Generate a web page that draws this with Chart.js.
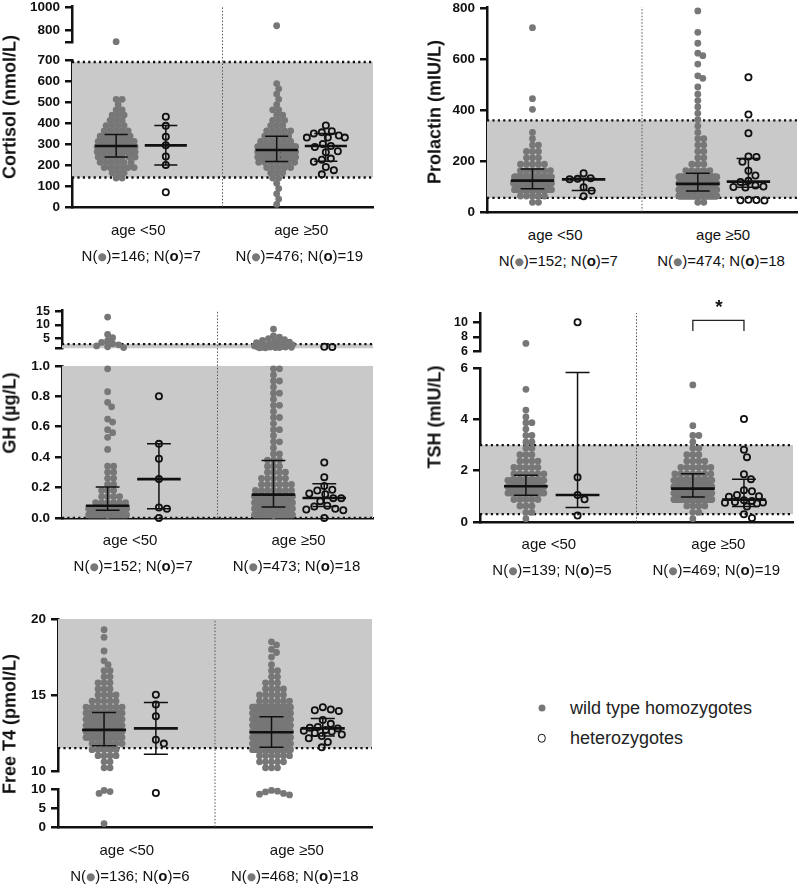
<!DOCTYPE html>
<html>
<head>
<meta charset="utf-8">
<title>Hormone levels by genotype and age</title>
<script src="https://cdn.jsdelivr.net/npm/chart.js@4.4.1/dist/chart.umd.min.js"></script>
<style>
  body { margin: 0; width: 798px; height: 886px; position: relative; overflow: hidden; background: #fff;
         font-family: "Liberation Sans", Arial, Helvetica, sans-serif; color: #111; }
  canvas { position: absolute; }
  .ytitle { position: absolute; font-weight: bold; font-size: 18px; white-space: nowrap;
            transform: translate(-50%, -50%) rotate(-90deg); }
  .lbl { position: absolute; font-size: 15px; white-space: nowrap; transform: translate(-50%, -50%); }
  .dot { color: #777; font-size: 10.5px; position: relative; top: -1px; font-family: "DejaVu Sans", sans-serif; }
  .legend { position: absolute; font-size: 18px; color: #222; white-space: nowrap; transform: translateY(-50%); }
  .mk { position: absolute; border-radius: 50%; transform: translate(-50%, -50%); box-sizing: border-box; }
  .star { position: absolute; font-weight: bold; font-size: 19px; transform: translate(-50%, -50%); }
</style>
</head>
<body>
<script>
// columns inside each panel: wt <50, het <50, wt >=50, het >=50 (x axis runs 0..6)
const groupX = [0.88, 1.87, 4.08, 5.06];
const groupLabels = ['age <50', 'age ≥50'];
const ageLabelX = [1.32, 4.57];
const nLabelX = [1.38, 4.53];
const dividerX = 3;

// ---------- Cortisol (nmol/L) ----------
// wild type values are given as counts per bin (bin width below, starting at 0)
const cortisolBin = 25;
const cortisolWtYoungBins = [0,0,0,0,0,2,3,6,6,7,30,35,30,6,5,4,3,3,2,1,2];
const cortisolWtYoungOther = [702];
const cortisolHetYoung = [429,386,334,293,240,200,70];
const cortisolWtOldBins = [1,1,1,1,1,2,3,5,7,135,150,137,6,5,5,3,3,2,2,1,1,1,1,1];
const cortisolWtOldOther = [840];
const cortisolHetOld = [388,360,355,350,340,330,330,330,300,290,285,265,260,230,225,215,190,175,155];
const cortisolMid = [290, 293, 271, 290];
const cortisolLow = [238, 200, 216, 217];
const cortisolHigh = [345, 388, 337, 350];
const cortisolRef = [140, 690];
const cortisolN = [146, 7, 476, 19];
const cortisolTicksUpper = [700, 800, 1000];
const cortisolLabelsUpper = ['', '800', '1000'];
const cortisolTicksLower = [0, 100, 200, 300, 400, 500, 600, 700];
const cortisolLabelsLower = ['0', '100', '200', '300', '400', '500', '600', '700'];

// ---------- Prolactin (mIU/L) ----------
const prolactinBin = 25;
const prolactinWtYoungBins = [0,2,5,38,45,38,6,5,3,3,2,1,1];
const prolactinWtYoungOther = [724, 445, 403];
const prolactinHetYoung = [152,132,130,128,97,83,62];
const prolactinWtOldBins = [0,2,102,120,118,100,5,3,2,2,2,2,1,1,1,1,1,1,1];
const prolactinWtOldOther = [790,706,663,624,614,581,535,525,491];
const prolactinHetOld = [529,383,309,218,216,197,162,143,122,118,104,100,98,96,48,47,46,45];
const prolactinMid = [123, 128, 110, 119];
const prolactinLow = [91, 84, 82, 97];
const prolactinHigh = [169, 132, 152, 210];
const prolactinRef = [55, 360];
const prolactinN = [152, 7, 474, 18];
const prolactinTicks = [0, 200, 400, 600, 800];
const prolactinLabels = ['0', '200', '400', '600', '800'];

// ---------- GH (µg/L) ----------
const ghBin = 0.04;
const ghWtYoungBins = [60,51,6,4,3,2,2,2,2];
const ghWtYoungOther = [0.98,0.83,0.76,0.73,0.65,0.63,0.58,0.56,0.53,0.45,12.9,6.5,5.3,4.2,3.6,3.1,2.7,2.3,2.0,1.7];
const ghHetYoung = [0.80,0.487,0.389,0.255,0.068,0.06,0];
const ghWtOldBins = [113,102,97,80,7,6,5,4,3,3,2,1,2,1,2,1,2,1,2,1,2,1,2,1,2];
const ghWtOldOther = [8.5,6.0,5.5,5.0,4.6,4.3,4.0,3.7,3.5,3.3,3.1,2.9,2.8,2.7,2.6,2.5,2.4,2.3,2.2,2.1,2.0,2.0,1.9,1.9,1.8,1.8,1.7,1.7,1.6,1.6];
const ghHetOld = [2.0,1.95,0.364,0.268,0.21,0.185,0.18,0.16,0.155,0.13,0.13,0.11,0.08,0.075,0.06,0.055,0.05,0];
const ghMid = [0.08, 0.255, 0.153, 0.131];
const ghLow = [0.05, 0.06, 0.072, 0.075];
const ghHigh = [0.203, 0.487, 0.377, 0.225];
const ghRef = [0, 3];
const ghN = [152, 7, 473, 18];
const ghTicksUpper = [1.4, 5, 10, 15];
const ghLabelsUpper = ['', '5', '10', '15'];
const ghTicksLower = [0, 0.2, 0.4, 0.6, 0.8, 1.0];
const ghLabelsLower = ['0.0', '0.2', '0.4', '0.6', '0.8', '1.0'];

// ---------- TSH (mIU/L) ----------
const tshBin = 0.25;
const tshWtYoungBins = [1,2,3,5,30,35,32,6,5,4,3,2,2,2,1,2];
const tshWtYoungOther = [7.1, 5.18, 4.37, 4.1];
const tshHetYoung = [10.0, 1.74, 1.05, 0.88, 0.25];
const tshWtOldBins = [1,2,4,95,120,120,100,7,6,4,3,2,1,2];
const tshWtOldOther = [5.35, 3.76];
const tshHetOld = [4.02,2.82,2.53,1.86,1.67,1.24,1.2,1.05,1.0,0.98,0.85,0.82,0.78,0.76,0.75,0.72,0.6,0.3,0.15];
const tshMid = [1.39, 1.05, 1.30, 0.87];
const tshLow = [1.04, 0.56, 0.97, 0.6];
const tshHigh = [1.82, 5.84, 1.88, 1.67];
const tshRef = [0.3, 3.0];
const tshN = [139, 5, 469, 19];
const tshBracket = [8.8, 10.25];   // wt >=50 vs het >=50, p < 0.05
const tshTicksUpper = [6, 8, 10];
const tshLabelsUpper = ['6', '8', '10'];
const tshTicksLower = [0, 2, 4, 6];
const tshLabelsLower = ['0', '2', '4', '6'];

// ---------- Free T4 (pmol/L) ----------
const ft4Bin = 0.4;
const ft4BinStart = 10;
const ft4WtYoungBins = [2,2,4,5,6,16,18,19,16,13,7,5,4,3,3,2,2,1];
const ft4WtYoungOther = [19.3, 18.8, 17.9, 17.25, 9.8, 9.5, 9.0, 0.9];
const ft4HetYoung = [15.02, 14.37, 13.6, 12.05, 11.8, 9.1];
const ft4WtOldBins = [3,5,6,40,50,58,62,60,56,50,44,6,5,4,3,2,2,1];
const ft4WtOldOther = [18.5, 18.3, 18.0, 17.8, 17.5, 9.8, 9.6, 9.4, 9.0, 8.8, 8.6];
const ft4HetOld = [14.2,14.05,14.0,13.95,13.35,13.1,12.9,12.85,12.8,12.7,12.65,12.6,12.5,12.4,12.3,12.15,11.9,11.55];
const ft4Mid = [12.7, 12.8, 12.55, 12.8];
const ft4Low = [11.66, 11.1, 11.56, 12.3];
const ft4High = [13.85, 14.5, 13.57, 13.46];
const ft4Ref = [11.5, 22.7];
const ft4N = [136, 6, 468, 18];
const ft4TicksUpper = [10, 15, 20];
const ft4LabelsUpper = ['10', '15', '20'];
const ft4TicksLower = [0, 5, 10];
const ft4LabelsLower = ['0', '5', '10'];

function expandBins(counts, start, width) {
  const out = [];
  counts.forEach((n, i) => { for (let k = 0; k < n; k++) out.push(start + (i + 0.5) * width); });
  return out;
}

// panel geometry (page pixels of the plot areas), segments listed top to bottom
const panels = [
  { title: 'Cortisol (nmol/L)', titleX: 10, titleY: 107, left: 72, right: 373,
    segs: [
      { min: 700, max: 1010, top: 6.1, bottom: 43.7, ticks: cortisolTicksUpper, labels: cortisolLabelsUpper, font: 13.5 },
      { min: 0, max: 700, top: 60, bottom: 208, ticks: cortisolTicksLower, labels: cortisolLabelsLower, font: 13.5 }],
    groups: [expandBins(cortisolWtYoungBins, 0, cortisolBin).concat(cortisolWtYoungOther), cortisolHetYoung,
             expandBins(cortisolWtOldBins, 0, cortisolBin).concat(cortisolWtOldOther), cortisolHetOld],
    mid: cortisolMid, low: cortisolLow, high: cortisolHigh, ref: cortisolRef, n: cortisolN },
  { title: 'Prolactin (mIU/L)', titleX: 435, titleY: 112, left: 487, right: 797,
    segs: [
      { min: 0, max: 805, top: 7, bottom: 213.3, ticks: prolactinTicks, labels: prolactinLabels, font: 13.5 }],
    groups: [expandBins(prolactinWtYoungBins, 0, prolactinBin).concat(prolactinWtYoungOther), prolactinHetYoung,
             expandBins(prolactinWtOldBins, 0, prolactinBin).concat(prolactinWtOldOther), prolactinHetOld],
    mid: prolactinMid, low: prolactinLow, high: prolactinHigh, ref: prolactinRef, n: prolactinN },
  { title: 'GH (µg/L)', titleX: 10, titleY: 413, left: 61.7, right: 372.7,
    segs: [
      { min: 1.4, max: 15.3, top: 310.9, bottom: 349.3, ticks: ghTicksUpper, labels: ghLabelsUpper, font: 12.5 },
      { min: 0, max: 1, top: 365.7, bottom: 518.3, ticks: ghTicksLower, labels: ghLabelsLower, font: 13.5 }],
    groups: [expandBins(ghWtYoungBins, 0, ghBin).concat(ghWtYoungOther), ghHetYoung,
             expandBins(ghWtOldBins, 0, ghBin).concat(ghWtOldOther), ghHetOld],
    mid: ghMid, low: ghLow, high: ghHigh, ref: ghRef, n: ghN },
  { title: 'TSH (mIU/L)', titleX: 435, titleY: 417, left: 480, right: 793,
    segs: [
      { min: 6, max: 11.2, top: 313, bottom: 351.7, ticks: tshTicksUpper, labels: tshLabelsUpper, font: 12.5 },
      { min: 0, max: 6, top: 368.3, bottom: 522.3, ticks: tshTicksLower, labels: tshLabelsLower, font: 13.5 }],
    groups: [expandBins(tshWtYoungBins, 0, tshBin).concat(tshWtYoungOther), tshHetYoung,
             expandBins(tshWtOldBins, 0, tshBin).concat(tshWtOldOther), tshHetOld],
    mid: tshMid, low: tshLow, high: tshHigh, ref: tshRef, n: tshN, bracket: tshBracket, starXY: [719, 307] },
  { title: 'Free T4 (pmol/L)', titleX: 10, titleY: 724, left: 57.7, right: 371.7,
    segs: [
      { min: 10, max: 20, top: 619.3, bottom: 773.3, ticks: ft4TicksUpper, labels: ft4LabelsUpper, font: 13.5 },
      { min: 0, max: 10, top: 790, bottom: 828.3, ticks: ft4TicksLower, labels: ft4LabelsLower, font: 13.5 }],
    groups: [expandBins(ft4WtYoungBins, ft4BinStart, ft4Bin).concat(ft4WtYoungOther), ft4HetYoung,
             expandBins(ft4WtOldBins, ft4BinStart, ft4Bin).concat(ft4WtOldOther), ft4HetOld],
    mid: ft4Mid, low: ft4Low, high: ft4High, ref: ft4Ref, n: ft4N }
];

Chart.defaults.font.family = '"Liberation Sans", Arial, Helvetica, sans-serif';
Chart.defaults.color = '#111';

const body = document.body;
function addDiv(cls, html, x, y) {
  const d = document.createElement('div');
  d.className = cls;
  d.innerHTML = html;
  d.style.left = x + 'px';
  d.style.top = y + 'px';
  body.appendChild(d);
  return d;
}

// greedy beeswarm in pixel space: returns x offsets (px)
function swarmOffsets(ys, diam, maxHalf) {
  const order = ys.map((y, i) => i).sort((a, b) => ys[a] - ys[b]);
  const placed = [];
  const out = new Array(ys.length).fill(0);
  const cands = [0];
  for (let k = 1; k <= maxHalf; k++) cands.push(k, -k);
  const d2 = diam * diam;
  for (const i of order) {
    const y = ys[i];
    let lo = placed.length - 1;
    while (lo >= 0 && y - placed[lo].y < diam) lo--;
    let best = 0, bestD = -1;
    for (const c of cands) {
      let m = Infinity;
      for (let j = lo + 1; j < placed.length; j++) {
        const dx = placed[j].x - c, dy = placed[j].y - y;
        const dd = dx * dx + dy * dy;
        if (dd < m) m = dd;
      }
      if (m >= d2) { best = c; break; }
      if (m > bestD) { bestD = m; best = c; }
    }
    placed.push({ x: best, y });
    out[i] = best;
  }
  return out;
}

function barData(mid, low, high) {
  const means = [], whiskers = [];
  groupX.forEach((x, g) => {
    means.push({ x: x - 0.42, y: mid[g] }, { x: x + 0.42, y: mid[g] }, { x, y: null });
    whiskers.push({ x, y: low[g] }, { x, y: high[g] }, { x, y: null });
    whiskers.push({ x: x - 0.23, y: high[g] }, { x: x + 0.23, y: high[g] }, { x, y: null });
    whiskers.push({ x: x - 0.23, y: low[g] }, { x: x + 0.23, y: low[g] }, { x, y: null });
  });
  return { means, whiskers };
}

const axisW = 52;

panels.forEach(p => {
  const panelTop = p.segs[0].top;
  const nSeg = p.segs.length;
  const segOf = v => p.segs.findIndex(s => v >= s.min && v <= s.max);
  const barSeg = segOf(p.mid[0]);
  let bottomChart = null, bottomLeft = 0;

  p.segs.forEach((seg, si) => {
    const isBottom = si === nSeg - 1;
    const areaW = p.right - p.left, areaH = seg.bottom - seg.top;
    const padTop = isBottom ? seg.top - panelTop + 12 : 12;
    const w = Math.ceil(axisW + areaW + 8), h = Math.ceil(padTop + areaH + 12);
    const canvas = document.createElement('canvas');
    canvas.width = w; canvas.height = h;
    body.appendChild(canvas);

    const pointSets = p.groups.map((vals, g) => ({ g, het: g % 2 === 1, values: vals.filter(v => segOf(v) === si) }));

    const datasets = [];
    datasets.push({ type: 'line', data: [{ x: 0, y: p.ref[1] }, { x: 6, y: p.ref[1] }], fill: { value: p.ref[0] },
      backgroundColor: '#c9c9c9', borderWidth: 0, pointRadius: 0, order: 10 });
    p.ref.forEach(r => datasets.push({ type: 'line', data: [{ x: 0, y: r }, { x: 6, y: r }],
      borderColor: '#111', borderWidth: 2.3, borderDash: [2.2, 3.2], pointRadius: 0, fill: false, order: 9 }));
    let divider = null;
    if (isBottom) {
      divider = { type: 'line', data: [{ x: dividerX, y: seg.min }, { x: dividerX, y: seg.max }], borderColor: '#555',
        borderWidth: 1, borderDash: [1.5, 1.8], pointRadius: 0, fill: false, clip: false, order: 8 };
      datasets.push(divider);
    }
    pointSets.forEach(ps => {
      ps.dataset = ps.het
        ? { type: 'scatter', data: ps.values.map(v => ({ x: groupX[ps.g], y: v })), pointRadius: 3.1, pointBorderWidth: 1.8,
            pointBorderColor: '#111', pointBackgroundColor: 'rgba(0,0,0,0)', clip: false, order: 4 }
        : { type: 'scatter', data: ps.values.map(v => ({ x: groupX[ps.g], y: v })), pointRadius: 3.4, pointBorderWidth: 0,
            pointBackgroundColor: '#777', clip: false, order: 5 };
      datasets.push(ps.dataset);
    });
    if (si === barSeg) {
      const bd = barData(p.mid, p.low, p.high);
      datasets.push({ type: 'line', data: bd.whiskers, borderColor: '#111', borderWidth: 1.5, pointRadius: 0,
        fill: false, spanGaps: false, order: 2 });
      datasets.push({ type: 'line', data: bd.means, borderColor: '#111', borderWidth: 2.6, pointRadius: 0,
        fill: false, spanGaps: false, order: 1 });
    }
    if (p.bracket && si === 0) {
      datasets.push({ type: 'line', data: [{ x: groupX[2], y: p.bracket[0] }, { x: groupX[2], y: p.bracket[1] },
        { x: groupX[3], y: p.bracket[1] }, { x: groupX[3], y: p.bracket[0] }], borderColor: '#222', borderWidth: 1.3,
        pointRadius: 0, fill: false, clip: false, order: 1 });
    }

    const chart = new Chart(canvas, {
      type: 'scatter',
      data: { datasets },
      options: {
        responsive: false, animation: false, events: [],
        layout: { padding: { top: padTop, right: w - axisW - areaW, bottom: h - padTop - areaH, left: 0 }, autoPadding: false },
        plugins: { legend: { display: false }, tooltip: { enabled: false } },
        scales: {
          x: { type: 'linear', min: 0, max: 6, ticks: { display: false }, grid: { display: false },
               border: { display: isBottom, width: 2.6, color: '#111' }, afterFit: s => { s.height = 0; } },
          y: { type: 'linear', min: seg.min, max: seg.max,
               afterBuildTicks: s => { s.ticks = seg.ticks.map(v => ({ value: v })); },
               afterFit: s => { s.width = axisW; },
               ticks: { callback: (v, i) => seg.labels[i], font: { size: seg.font, weight: 'bold' }, color: '#111',
                        padding: 5, autoSkip: false, maxRotation: 0 },
               grid: { display: true, drawOnChartArea: false, drawTicks: true, tickLength: 7, lineWidth: 2.5, color: '#111' },
               border: { display: true, width: 2.5, color: '#111' } }
        }
      }
    });

    // place the canvas so the plot area lands on the panel box
    const ca = chart.chartArea;
    const cLeft = p.left - ca.left, cTop = seg.top - ca.top;
    canvas.style.left = cLeft + 'px';
    canvas.style.top = cTop + 'px';

    // beeswarm offsets through the chart's own scales
    const xs = chart.scales.x, ys = chart.scales.y;
    const ppu = xs.getPixelForValue(1) - xs.getPixelForValue(0);
    pointSets.forEach(ps => {
      const yp = ps.values.map(v => ys.getPixelForValue(v));
      const dx = swarmOffsets(yp, ps.het ? 8 : 5.5, ps.het ? 19 : 19.5);
      ps.dataset.data = ps.values.map((v, i) => ({ x: groupX[ps.g] + dx[i] / ppu, y: v }));
    });
    if (divider) divider.data[1].y = ys.getValueForPixel(ca.top - (seg.top - panelTop));
    chart.update('none');

    if (isBottom) { bottomChart = chart; bottomLeft = cLeft; }
  });

  // text: axis title, group labels, N labels
  addDiv('ytitle', p.title, p.titleX, p.titleY);
  const xs = bottomChart.scales.x;
  const base = p.segs[nSeg - 1].bottom;
  groupLabels.forEach((lab, k) => {
    addDiv('lbl', lab, bottomLeft + xs.getPixelForValue(ageLabelX[k]), base + 21);
    addDiv('lbl', 'N(<span class="dot">●</span>)=' + p.n[2 * k] + '; N(<b>o</b>)=' + p.n[2 * k + 1],
      bottomLeft + xs.getPixelForValue(nLabelX[k]), base + 46.5);
  });
  if (p.starXY) addDiv('star', '*', p.starXY[0], p.starXY[1]);
});

// legend
const m1 = addDiv('mk', '', 541.7, 708.3);
Object.assign(m1.style, { width: '7px', height: '7px', background: '#777' });
const m2 = addDiv('mk', '', 541.7, 738);
Object.assign(m2.style, { width: '8.5px', height: '8.5px', border: '1.8px solid #111' });
addDiv('legend', 'wild type homozygotes', 570, 708.3);
addDiv('legend', 'heterozygotes', 570, 738);
</script>
</body>
</html>
